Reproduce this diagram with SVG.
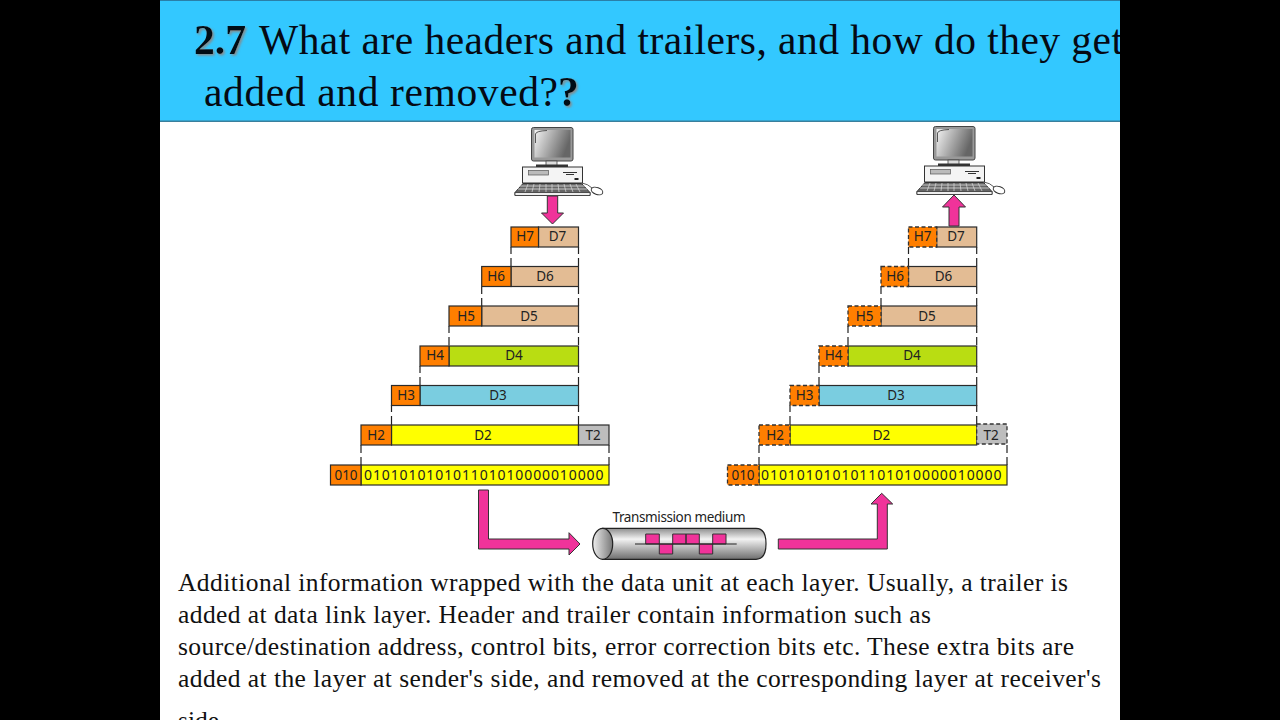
<svg xmlns="http://www.w3.org/2000/svg" width="1280" height="720" viewBox="0 0 1280 720">
<style>
.b{stroke:#2b2b2b;stroke-width:1.2}
.dash{stroke-dasharray:4 2.5;stroke-width:1.3;stroke:#333}
.o{fill:#FF7F00}.t{fill:#E3BC94}.g{fill:#B9DD12}.c{fill:#7ACDE0}.y{fill:#FFFF00}.s{fill:#BDBDBD}
.l{font-family:"Noto Sans","Open Sans",sans-serif;font-size:13.5px;fill:#222;text-anchor:middle}
.bits{font-family:"Noto Sans","Open Sans",sans-serif;font-size:14px;fill:#222}
.ttl{font-family:"Liberation Serif",serif;font-size:41.5px;fill:#050a14}
.txt{font-family:"Liberation Serif",serif;font-size:25.5px;fill:#111}
.pink{fill:#F0339A;stroke:#333;stroke-width:1}
.con{stroke:#222;stroke-width:1.2;fill:none}
</style>
<defs>
<clipPath id="page"><rect x="160" y="0" width="960" height="720"/></clipPath>
<linearGradient id="scr" x1="0" y1="0" x2="1" y2="0.3"><stop offset="0" stop-color="#f4f4f4"/><stop offset="1" stop-color="#666"/></linearGradient>
<linearGradient id="pipe" x1="0" y1="0" x2="0" y2="1"><stop offset="0" stop-color="#8d8d8d"/><stop offset="0.35" stop-color="#f2f2f2"/><stop offset="1" stop-color="#6e6e6e"/></linearGradient>
<linearGradient id="hole" x1="0" y1="0" x2="1" y2="0"><stop offset="0" stop-color="#eee"/><stop offset="1" stop-color="#777"/></linearGradient>
<filter id="sh" x="-10%" y="-10%" width="130%" height="130%"><feDropShadow dx="1.5" dy="1.5" stdDeviation="0.8" flood-color="#888"/></filter>
<g id="pc">
<path d="M582 183Q588 184 592 188" fill="none" stroke="#333" stroke-width="0.8"/>
<ellipse cx="597" cy="191" rx="6" ry="3.4" transform="rotate(20 597 191)" fill="#fff" stroke="#333" stroke-width="1"/>
<rect x="531.500" y="127.500" width="41.500" height="33.500" rx="2" fill="#999" stroke="#444" stroke-width="1"/>
<rect x="534.500" y="130" width="36" height="27.500" fill="url(#scr)"/>
<path d="M535.500 143V134Q536 131 547 130.500" fill="none" stroke="#333" stroke-width="0.8"/>
<rect x="546" y="161" width="11" height="5" fill="#ddd" stroke="#444" stroke-width="0.8"/>
<rect x="536" y="164.500" width="32" height="3" fill="#333"/>
<rect x="522.500" y="167" width="60" height="16" fill="#f4f4f4" stroke="#333" stroke-width="1"/>
<rect x="528.500" y="170.500" width="20" height="4.500" fill="#bbb" stroke="#555" stroke-width="0.7"/>
<path d="M563 172.500H577M566 174.500H574" stroke="#333" stroke-width="1.200"/>
<rect x="574.500" y="178" width="4" height="2" fill="#222"/>
<path d="M523 183.500H581.500L590 192.500V195.500H515V192.500Z" fill="#666" stroke="#333" stroke-width="1"/>
<path d="M515 192.500H590V195.500H515Z" fill="#eee" stroke="#333" stroke-width="0.8"/>
<path d="M520 186H585M518 189H587" stroke="#ddd" stroke-width="0.8"/>
<path d="M528 184L525 192M534 184L532 192M540 184L539 192M546 184L546 192M552 184L552 192M558 184L559 192M564 184L566 192M570 184L573 192M576 184L580 192" stroke="#ddd" stroke-width="0.7"/>
</g>
</defs>

<rect width="1280" height="720" fill="#000"/>
<rect x="160" y="0" width="960" height="720" fill="#fff"/>

<g id="title" clip-path="url(#page)">
<rect x="160" y="0" width="960" height="121" fill="#33C8FF"/>
<rect x="160" y="120.500" width="960" height="1.500" fill="#3a7f9c"/>
<rect x="160" y="0" width="960" height="1" fill="#2a7fa8"/>
<text class="ttl" x="194" y="54" font-weight="bold" filter="url(#sh)">2.7</text>
<text class="ttl" x="259" y="54" textLength="864" lengthAdjust="spacing">What are headers and trailers, and how do they get</text>
<text class="ttl" x="204" y="106" textLength="354" lengthAdjust="spacing">added and removed?</text>
<text class="ttl" x="558" y="106" font-weight="bold" filter="url(#sh)">?</text>
</g>

<g id="connectors">
<path class="con" d="M511 247V254M511 258V266M578.500 247V254M578.500 258V266M481.700 287V294M481.700 298V306M578.500 287V294M578.500 298V306M449 326V333M449 337V345M578.500 326V333M578.500 337V345M420 366V373M420 377V385M578.500 366V373M578.500 377V385M391.500 405V412M391.500 416V425M578.500 405V412M578.500 416V425M361 445V453M361 457V465M609 445V453M609 457V465"/>
<path class="con" d="M908.500 247V254M908.500 258V266M976.700 247V254M976.700 258V266M881 287V294M881 298V306M976.700 287V294M976.700 298V306M848 326V333M848 337V345M976.700 326V333M976.700 337V345M819 366V373M819 377V385M976.700 366V373M976.700 377V385M790 405V412M790 416V425M976.700 405V412M976.700 416V425M759 445V453M759 457V465M1007 445V453M1007 457V465"/>
<path id="arrow-down" class="pink" d="M547.300 196H557.700V213H563.500L552.500 224L541.500 213H547.300Z"/>
<path id="arrow-up" class="pink" d="M949 226V207H942.500L954 195L965.500 207H959V226Z"/>
<path id="arrow-out" class="pink" d="M478.500 490H488.500V539H569V532.700L580 544L569 555V549H478.500Z"/>
<path id="arrow-in" class="pink" d="M778.300 539H877.300V504H871L881.700 493.300L892.700 504H887.300V549H778.300Z"/>
</g>

<g id="sender-pc"><use href="#pc"/></g>
<g id="receiver-pc"><use href="#pc" x="402" y="-1"/></g>

<g id="sender-l7"><rect class="t b" x="538.500" y="227" width="40" height="20"/><rect class="o b" x="511" y="227" width="27.500" height="20"/><text class="l" x="525" y="241">H7</text><text class="l" x="557.500" y="241">D7</text></g>
<g id="sender-l6"><rect class="t b" x="511" y="266.500" width="67.500" height="20"/><rect class="o b" x="481.700" y="266.500" width="29.300" height="20"/><text class="l" x="496" y="281">H6</text><text class="l" x="545" y="281">D6</text></g>
<g id="sender-l5"><rect class="t b" x="481.700" y="306" width="96.800" height="20"/><rect class="o b" x="449" y="306" width="32.700" height="20"/><text class="l" x="466" y="320.500">H5</text><text class="l" x="529" y="320.500">D5</text></g>
<g id="sender-l4"><rect class="g b" x="449" y="346" width="129.500" height="20"/><rect class="o b" x="420" y="346" width="29" height="20"/><text class="l" x="435" y="360">H4</text><text class="l" x="514" y="360">D4</text></g>
<g id="sender-l3"><rect class="c b" x="420" y="385.500" width="158.500" height="20"/><rect class="o b" x="391.500" y="385.500" width="28.500" height="20"/><text class="l" x="406" y="400">H3</text><text class="l" x="498" y="400">D3</text></g>
<g id="sender-l2"><rect class="y b" x="391.500" y="425" width="187" height="20"/><rect class="o b" x="361" y="425" width="30.500" height="20"/><rect class="s b" x="578.500" y="425" width="30.500" height="20"/><text class="l" x="376" y="439.500">H2</text><text class="l" x="483" y="439.500">D2</text><text class="l" x="593" y="440">T2</text></g>
<g id="sender-l1"><rect class="y b" x="361" y="465" width="248" height="20"/><rect class="o b" x="330.500" y="465" width="30.500" height="20"/><text class="l" x="346" y="480">010</text><text class="bits" x="364" y="480" textLength="239.500" lengthAdjust="spacing">010101010101101010000010000</text></g>

<g id="receiver-l7"><rect class="t b" x="936.700" y="227" width="40" height="20"/><rect class="o dash" x="908.500" y="227" width="28.200" height="20"/><text class="l" x="922.500" y="241">H7</text><text class="l" x="956" y="241">D7</text></g>
<g id="receiver-l6"><rect class="t b" x="908.500" y="266.500" width="68.200" height="20"/><rect class="o dash" x="881" y="266.500" width="27.500" height="20"/><text class="l" x="895" y="281">H6</text><text class="l" x="943.500" y="281">D6</text></g>
<g id="receiver-l5"><rect class="t b" x="881" y="306" width="95.700" height="20"/><rect class="o dash" x="848" y="306" width="33" height="20"/><text class="l" x="864.500" y="320.500">H5</text><text class="l" x="927" y="320.500">D5</text></g>
<g id="receiver-l4"><rect class="g b" x="848" y="346" width="128.700" height="20"/><rect class="o dash" x="819" y="346" width="29" height="20"/><text class="l" x="833.500" y="360">H4</text><text class="l" x="912" y="360">D4</text></g>
<g id="receiver-l3"><rect class="c b" x="819" y="385.500" width="157.700" height="20"/><rect class="o dash" x="790" y="385.500" width="29" height="20"/><text class="l" x="804.500" y="400">H3</text><text class="l" x="896" y="400">D3</text></g>
<g id="receiver-l2"><rect class="y b" x="790" y="425" width="186.700" height="20"/><rect class="o dash" x="759" y="425" width="31" height="20"/><rect class="s dash" x="976.700" y="424" width="30.300" height="20"/><text class="l" x="775" y="439.500">H2</text><text class="l" x="881.500" y="439.500">D2</text><text class="l" x="991" y="439.500">T2</text></g>
<g id="receiver-l1"><rect class="y b" x="759" y="465" width="248" height="20"/><rect class="o dash" x="727.500" y="465" width="31.500" height="20"/><text class="l" x="743" y="480">010</text><text class="bits" x="761" y="480" textLength="240.500" lengthAdjust="spacing">010101010101101010000010000</text></g>

<g id="medium">
<text class="l" x="679" y="521.500" textLength="133">Transmission medium</text>
<path d="M602.700 528.300H756Q766 528.300 766 543.800T756 559.300H602.700Z" fill="url(#pipe)" stroke="#222" stroke-width="1.200"/>
<ellipse cx="602.700" cy="543.800" rx="10" ry="15.500" fill="url(#hole)" stroke="#222" stroke-width="1.200"/>
<path class="pink" d="M645.700 534H659.300V544H645.700ZM659.300 544H672.700V554H659.300ZM672.700 534H686V544H672.700ZM686 534H699.300V544H686ZM699.300 544H712.700V554H699.300ZM712.700 534H726V544H712.700Z"/>
<path d="M635 544H736.700" stroke="#222" stroke-width="1.200"/>
</g>

<g id="body" clip-path="url(#page)">
<text class="txt" x="178" y="590.500" textLength="890" lengthAdjust="spacing">Additional information wrapped with the data unit at each layer. Usually, a trailer is</text>
<text class="txt" x="178" y="622.500" textLength="753" lengthAdjust="spacing">added at data link layer. Header and trailer contain information such as</text>
<text class="txt" x="178" y="654.500" textLength="896" lengthAdjust="spacing">source/destination address, control bits, error correction bits etc. These extra bits are</text>
<text class="txt" x="178" y="686.500" textLength="923" lengthAdjust="spacing">added at the layer at sender's side, and removed at the corresponding layer at receiver's</text>
<text class="txt" x="178" y="729">side.</text>
</g>
</svg>
